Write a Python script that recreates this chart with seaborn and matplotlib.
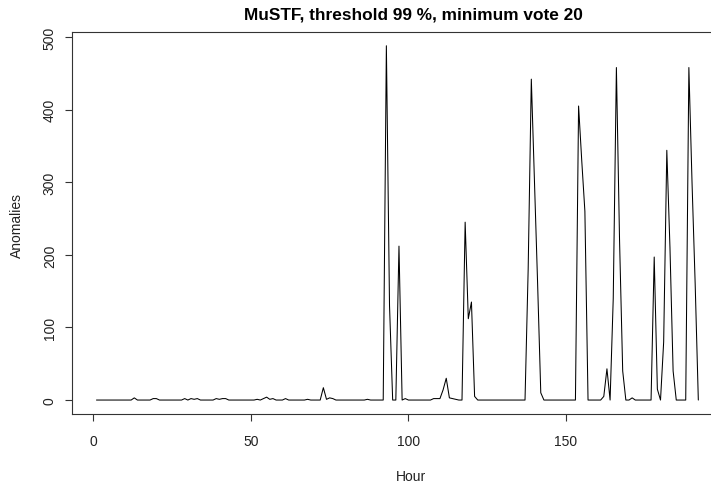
import numpy as np
import pandas as pd
import matplotlib
matplotlib.use("Agg")
import matplotlib.pyplot as plt
import seaborn as sns

# ---- data ----
hours = list(range(1, 193))
nonzero = {
    13: 3, 19: 2, 20: 2, 29: 2, 31: 2, 32: 1, 33: 2,
    39: 2, 40: 1, 41: 2, 42: 2, 52: 1, 54: 2, 55: 4, 56: 1, 57: 2,
    61: 2, 68: 1, 73: 17, 74: 1, 75: 3, 76: 2, 87: 1,
    93: 488, 94: 130, 97: 212, 99: 2,
    108: 2, 109: 2, 110: 2, 111: 14, 112: 30, 113: 3, 114: 2, 115: 1,
    118: 245, 119: 112, 120: 135, 121: 5,
    138: 180, 139: 442, 140: 300, 141: 160, 142: 10,
    154: 405, 155: 330, 156: 260,
    162: 5, 163: 43, 165: 140, 166: 458, 167: 220, 168: 40, 171: 3,
    178: 197, 179: 15, 181: 80, 182: 344, 183: 210, 184: 40,
    189: 458, 190: 300, 191: 160,
}
anomalies = [nonzero.get(h, 0) for h in hours]
x_ticks = [0, 50, 100, 150]
y_ticks = [0, 100, 200, 300, 400, 500]
title = "MuSTF, threshold 99 %, minimum vote 20"

df = pd.DataFrame({"Hour": hours, "Anomalies": anomalies})

sns.set_theme(style="white")
plt.rcParams["font.family"] = ["Liberation Sans", "DejaVu Sans"]

fig = plt.figure(figsize=(7.11, 4.89), dpi=100)
W, H = 711, 489
left, right, top, bottom = 72.4, 750.0, 32.6, 415.2
ax = fig.add_axes([left / W, 1 - bottom / H, (right - left) / W, (bottom - top) / H])

sns.lineplot(data=df, x="Hour", y="Anomalies", ax=ax, color="black",
             linewidth=0.75, estimator=None)

ax.set_xlim(-6.64, 208.4)
ax.set_ylim(-19.5, 507.5)
ax.set_xticks(x_ticks)
ax.set_yticks(y_ticks)
ax.set_xticklabels([str(t) for t in x_ticks], fontsize=10, color="#222222")
ax.set_yticklabels([str(t) for t in y_ticks], fontsize=10, color="#222222",
                   rotation=90, va="center")
ax.tick_params(axis="both", direction="out", length=5.2, width=0.8,
               color="#333333", left=True, bottom=True)
ax.tick_params(axis="x", pad=9)
ax.tick_params(axis="y", pad=6)
for sp in ax.spines.values():
    sp.set_visible(True)
    sp.set_color("#333333")
    sp.set_linewidth(0.8)

ax.set_xlabel("")
ax.set_ylabel("")
fig.text(411 / W, 1 - 477 / H, "Hour", ha="center", va="center",
         fontsize=10, color="#222222")
fig.text(17 / W, 1 - 225 / H, "Anomalies", ha="center", va="center",
         rotation=90, fontsize=10, color="#222222")
fig.text(413 / W, 1 - 14.5 / H, title, ha="center", va="center",
         fontsize=12.4, fontweight="bold", color="black")

fig.savefig("out.png", dpi=100)
